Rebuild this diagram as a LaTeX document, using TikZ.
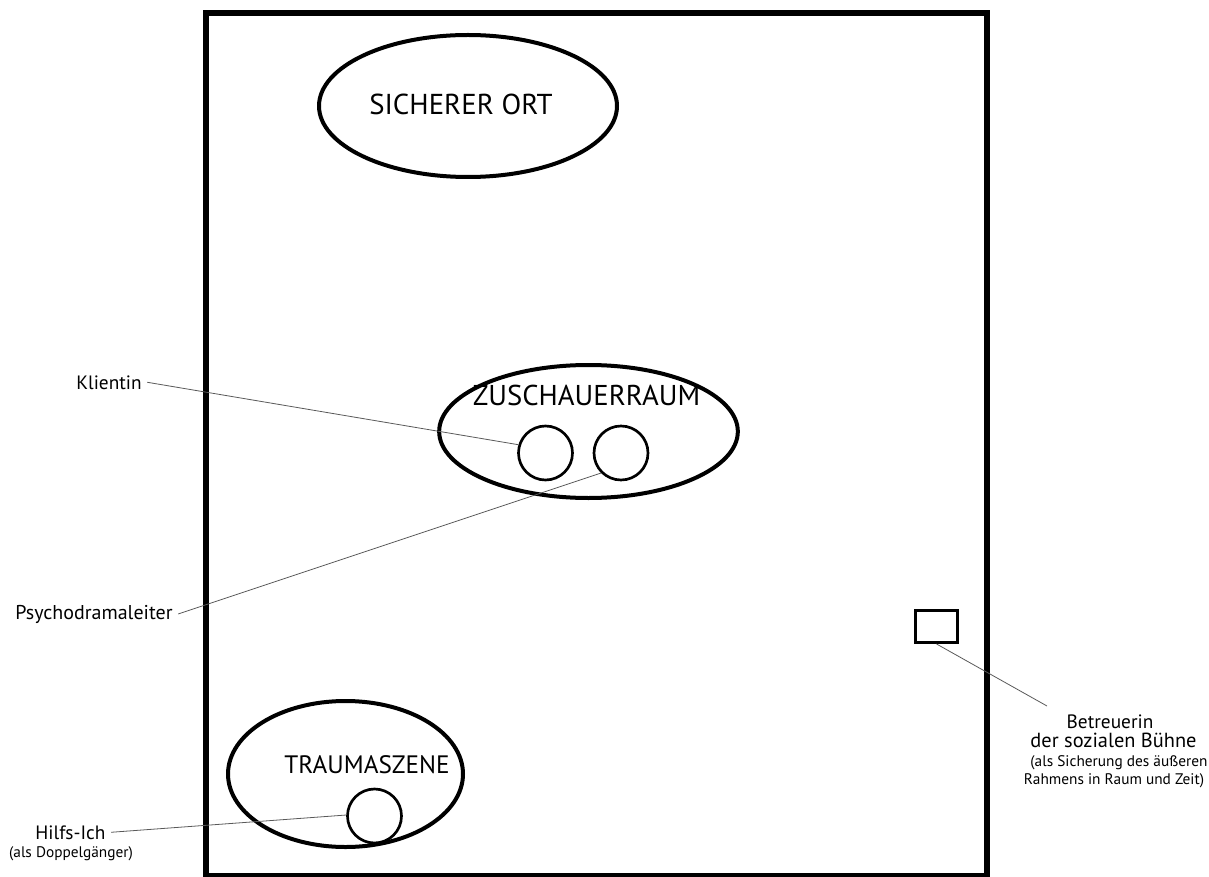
\documentclass[tikz,border=0pt]{standalone}
\usepackage{fontspec}
\setmainfont{PT Sans}
\usetikzlibrary{shapes.geometric}
\tikzset{
  frame/.style={line width=4.5pt},
  zone/.style={draw, ellipse, line width=3pt, inner sep=0pt},
  person/.style={draw, circle, line width=2pt, inner sep=0pt, minimum size=40.5pt},
  helperbox/.style={draw, rectangle, line width=2.2pt, inner sep=0pt, minimum width=31.5pt, minimum height=24pt},
  title/.style={inner sep=0pt, anchor=base},
  lab/.style={inner sep=1pt, anchor=base, font=\fontsize{14.5}{16}\selectfont},
  smalllab/.style={inner sep=1pt, anchor=base, font=\fontsize{11.5}{13}\selectfont},
  leader/.style={draw=black!65, line width=0.6pt}
}
\begin{document}
\begin{tikzpicture}[x=0.75pt,y=-0.75pt]
\useasboundingbox (0,0) rectangle (1209,877);
\begin{scope}
\clip (0,0) rectangle (1209,877);
\draw[frame] (206,13) rectangle (987,876);
\end{scope}

% zones
\node[zone, minimum width=223.5pt, minimum height=106.5pt] (sicher) at (468,106) {};
\node[zone, minimum width=224pt, minimum height=99.75pt] (zusch) at (588.5,431.5) {};
\node[zone, minimum width=176.25pt, minimum height=109.5pt] (trauma) at (345.5,774) {};

\node[title, font=\fontsize{21.6}{24}\selectfont] (tsicher) at (461,115) {SICHERER ORT};
\node[title, font=\fontsize{21.5}{24}\selectfont] (tzusch) at (586.5,405) {ZUSCHAUERRAUM};
\node[title, font=\fontsize{18.9}{21}\selectfont] (ttrauma) at (367,773) {TRAUMASZENE};

% persons
\node[person] (c1) at (545.5,453) {};
\node[person] (c2) at (621,453) {};
\node[person] (c3) at (374.5,816) {};
\node[helperbox] (sq) at (936.5,626.5) {};

% labels
\node[lab] (kl) at (109,389) {Klientin};
\node[lab, font=\fontsize{15}{16}\selectfont] (ps) at (94,619) {Psychodramaleiter};
\node[lab] (hi) at (70.5,839) {Hilfs-Ich};
\node[smalllab] (hi2) at (71,857) {(als Doppelgänger)};
\node[lab] (be1) at (1110,728) {Betreuerin};
\node[lab, font=\fontsize{15.3}{17}\selectfont] (be2) at (1113.5,747) {der sozialen Bühne};
\node[smalllab] (be3) at (1119,766) {(als Sicherung des äußeren};
\node[smalllab] (be4) at (1114,784) {Rahmens in Raum und Zeit)};
\coordinate (beend) at (1047,706);

% leaders
\draw[leader] ([xshift=3pt]kl.east) -- (c1.163);
\draw[leader] ([xshift=3pt]ps.east) -- (c2.225);
\draw[leader] ([xshift=3pt]hi.east) -- (c3.178);
\draw[leader] (sq.south) -- (beend);
\end{tikzpicture}
\end{document}
